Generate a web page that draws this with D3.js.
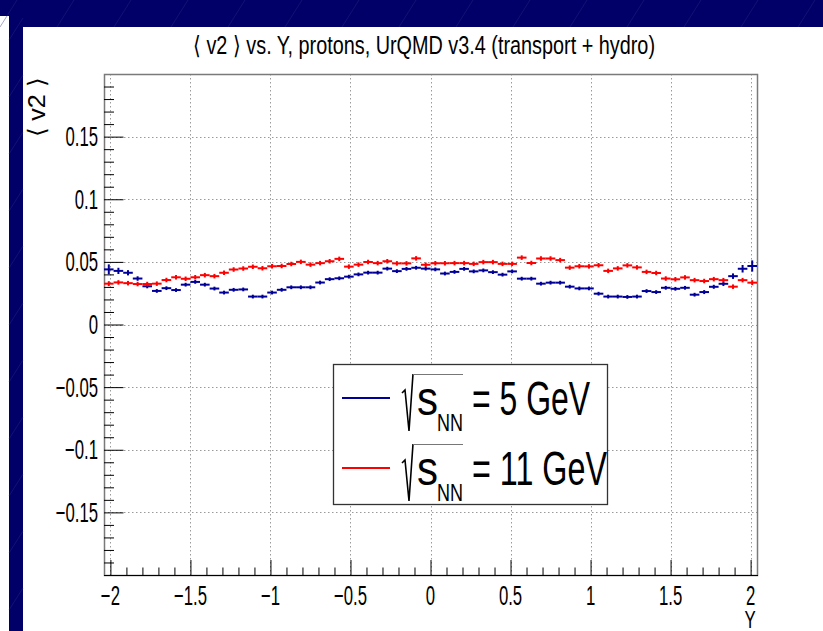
<!DOCTYPE html>
<html>
<head>
<meta charset="utf-8">
<script src="https://cdn.jsdelivr.net/npm/d3@7"></script>
<style>
body { margin: 0; background: #ffffff; }
svg { display: block; }
text { font-family: "Liberation Sans", Arial, sans-serif; fill: #000; }
</style>
</head>
<body>
<div id="chart"></div>
<script>
// histogram binning: 68 bins from -2.04 to 2.04
const nBins = 68, yMin = -2.04, yMax = 2.04;

// <v2> per rapidity bin, sqrt(sNN) = 5 GeV
const v2Blue = [0.0440, 0.0428, 0.0413, 0.0367, 0.0305, 0.0268, 0.0290, 0.0275, 0.0318, 0.0340,
  0.0318, 0.0287, 0.0255, 0.0277, 0.0280, 0.0223, 0.0223, 0.0255, 0.0277, 0.0297,
  0.0297, 0.0297, 0.0335, 0.0362, 0.0369, 0.0382, 0.0400, 0.0414, 0.0414, 0.0446,
  0.0426, 0.0444, 0.0453, 0.0446, 0.0440, 0.0407, 0.0420, 0.0444, 0.0424, 0.0432,
  0.0418, 0.0398, 0.0424, 0.0366, 0.0366, 0.0326, 0.0334, 0.0334, 0.0302, 0.0288,
  0.0288, 0.0246, 0.0223, 0.0223, 0.0220, 0.0223, 0.0267, 0.0259, 0.0293, 0.0285,
  0.0293, 0.0238, 0.0259, 0.0301, 0.0325, 0.0386, 0.0445, 0.0467];
const errBlue = [0.0040, 0.0025, 0.0021, 0.0018, 0.0016, 0.0015, 0.0015, 0.0015, 0.0015, 0.0015,
  0.0015, 0.0015, 0.0015, 0.0015, 0.0015, 0.0015, 0.0015, 0.0015, 0.0015, 0.0015,
  0.0015, 0.0015, 0.0015, 0.0015, 0.0015, 0.0015, 0.0015, 0.0015, 0.0015, 0.0015,
  0.0015, 0.0015, 0.0015, 0.0015, 0.0015, 0.0015, 0.0015, 0.0015, 0.0015, 0.0015,
  0.0015, 0.0015, 0.0015, 0.0015, 0.0015, 0.0015, 0.0015, 0.0015, 0.0015, 0.0015,
  0.0015, 0.0015, 0.0015, 0.0015, 0.0015, 0.0015, 0.0015, 0.0015, 0.0015, 0.0015,
  0.0015, 0.0015, 0.0016, 0.0016, 0.0018, 0.0022, 0.0030, 0.0045];

// <v2> per rapidity bin, sqrt(sNN) = 11 GeV
const v2Red = [0.0326, 0.0336, 0.0330, 0.0323, 0.0323, 0.0326, 0.0355, 0.0377, 0.0365, 0.0377,
  0.0394, 0.0386, 0.0413, 0.0439, 0.0447, 0.0461, 0.0449, 0.0465, 0.0467, 0.0483,
  0.0500, 0.0478, 0.0490, 0.0505, 0.0524, 0.0462, 0.0478, 0.0499, 0.0490, 0.0505,
  0.0488, 0.0488, 0.0528, 0.0477, 0.0489, 0.0489, 0.0490, 0.0490, 0.0484, 0.0498,
  0.0498, 0.0484, 0.0484, 0.0534, 0.0491, 0.0527, 0.0527, 0.0514, 0.0454, 0.0465,
  0.0464, 0.0473, 0.0428, 0.0448, 0.0472, 0.0456, 0.0420, 0.0411, 0.0367, 0.0361,
  0.0376, 0.0354, 0.0347, 0.0362, 0.0354, 0.0302, 0.0354, 0.0334];
const errRed = [0.0020, 0.0018, 0.0018, 0.0018, 0.0018, 0.0018, 0.0018, 0.0018, 0.0018, 0.0018,
  0.0018, 0.0018, 0.0018, 0.0018, 0.0018, 0.0018, 0.0018, 0.0018, 0.0018, 0.0018,
  0.0018, 0.0018, 0.0018, 0.0018, 0.0018, 0.0018, 0.0018, 0.0018, 0.0018, 0.0018,
  0.0018, 0.0018, 0.0018, 0.0018, 0.0018, 0.0018, 0.0018, 0.0018, 0.0018, 0.0018,
  0.0018, 0.0018, 0.0018, 0.0018, 0.0018, 0.0018, 0.0018, 0.0018, 0.0018, 0.0018,
  0.0018, 0.0018, 0.0018, 0.0018, 0.0018, 0.0018, 0.0018, 0.0018, 0.0018, 0.0018,
  0.0018, 0.0018, 0.0018, 0.0018, 0.0018, 0.0018, 0.0018, 0.0020];

const xTicks = [-2, -1.5, -1, -0.5, 0, 0.5, 1, 1.5, 2];
const xTickLabels = ['\u22122', '\u22121.5', '\u22121', '\u22120.5', '0', '0.5', '1', '1.5', '2'];
const yTicks = [-0.15, -0.1, -0.05, 0, 0.05, 0.1, 0.15];
const yTickLabels = ['\u22120.15', '\u22120.1', '\u22120.05', '0', '0.05', '0.1', '0.15'];

const titleText = '\u27e8 v2 \u27e9 vs. Y, protons, UrQMD v3.4 (transport + hydro)';
const legendEnergies = ['= 5 GeV', '= 11 GeV'];
const seriesColors = ['#000099', '#ff0000'];

const width = 823, height = 631;
const frame = { left: 104, right: 757, top: 74, bottom: 575 };

const svg = d3.select('#chart')
  .append('svg')
  .attr('width', width)
  .attr('height', height);

// slide background (navy band and strip)
const navy = '#000068';
svg.append('rect').attr('x', 0).attr('y', 0).attr('width', width).attr('height', 16).attr('fill', navy);
svg.append('rect').attr('x', 9).attr('y', 0).attr('width', width - 9).attr('height', 27).attr('fill', navy);
svg.append('rect').attr('x', 9).attr('y', 0).attr('width', 14).attr('height', height).attr('fill', navy);

const bgLines = svg.append('g').attr('stroke', '#2c2c84').attr('stroke-width', 0.7).attr('opacity', 0.6);
d3.range(0, 900, 57).forEach(x0 => {
  bgLines.append('line').attr('x1', x0).attr('y1', 27).attr('x2', x0 + 17).attr('y2', 0);
});
d3.range(40, 640, 57).forEach(y0 => {
  bgLines.append('line').attr('x1', 9).attr('y1', y0).attr('x2', 23).attr('y2', y0 - 22);
});

const x = d3.scaleLinear().domain([yMin, yMax]).range([frame.left, frame.right]);
const y = d3.scaleLinear().domain([-0.2, 0.2]).range([frame.bottom, frame.top]);

const binW = (yMax - yMin) / nBins;
const centers = d3.range(nBins).map(i => yMin + (i + 0.5) * binW);

// grid
const grid = svg.append('g')
  .attr('stroke', '#9a9a9a')
  .attr('stroke-width', 1)
  .attr('stroke-dasharray', '1.5,2.5');

grid.selectAll('.gx')
  .data(xTicks)
  .enter()
  .append('line')
  .attr('x1', d => Math.round(x(d)) + 0.5)
  .attr('x2', d => Math.round(x(d)) + 0.5)
  .attr('y1', frame.top)
  .attr('y2', frame.bottom);

grid.selectAll('.gy')
  .data(yTicks)
  .enter()
  .append('line')
  .attr('y1', d => Math.round(y(d)) + 0.5)
  .attr('y2', d => Math.round(y(d)) + 0.5)
  .attr('x1', frame.left)
  .attr('x2', frame.right);

// frame
svg.append('rect')
  .attr('x', frame.left + 0.5)
  .attr('y', frame.top + 0.5)
  .attr('width', frame.right - frame.left)
  .attr('height', frame.bottom - frame.top)
  .attr('fill', 'none')
  .attr('stroke', '#7a7a7a')
  .attr('stroke-width', 1.5);

// axes
const xAxis = d3.axisTop(x)
  .tickValues(d3.range(-20, 21).map(k => k / 10))
  .tickSize(0)
  .tickFormat('');
const gx = svg.append('g').attr('transform', `translate(0,${frame.bottom})`);
gx.call(xAxis);
gx.select('.domain').remove();
gx.selectAll('.tick line')
  .attr('y2', (d) => xTicks.some(t => Math.abs(t - d) < 1e-9) ? -15 : -7.5)
  .attr('stroke', '#000')
  .attr('stroke-width', 1);
svg.append('line')
  .attr('x1', frame.left).attr('x2', frame.right + 1)
  .attr('y1', frame.bottom + 0.5).attr('y2', frame.bottom + 0.5)
  .attr('stroke', '#000').attr('stroke-width', 1.2);

const yAxis = d3.axisRight(y)
  .tickValues(d3.range(-19, 20).map(k => k / 100))
  .tickSize(0)
  .tickFormat('');
const gy = svg.append('g').attr('transform', `translate(${frame.left},0)`);
gy.call(yAxis);
gy.select('.domain').remove();
gy.selectAll('.tick line')
  .attr('x2', (d) => yTicks.some(t => Math.abs(t - d) < 1e-9) ? 19.5 : 10)
  .attr('stroke', '#000')
  .attr('stroke-width', 1);

// tick labels (ROOT text here is squeezed horizontally)
const squeeze = 0.62;
const label = (px, py, str, size, anchor, sx) => {
  svg.append('text')
    .attr('transform', `translate(${px},${py}) scale(${sx},1)`)
    .attr('text-anchor', anchor)
    .attr('font-size', size)
    .text(str);
};

xTicks.forEach((t, i) => label(x(t), 605, xTickLabels[i], 27, 'middle', squeeze));
yTicks.forEach((t, i) => label(98, y(t) + 9.5, yTickLabels[i], 27, 'end', squeeze));

label(750, 628, 'Y', 24, 'middle', 0.7);

svg.append('text')
  .attr('transform', 'translate(45,78) rotate(-90)')
  .attr('text-anchor', 'end')
  .attr('font-size', 24)
  .attr('textLength', 59)
  .attr('lengthAdjust', 'spacingAndGlyphs')
  .text('\u27e8 v2 \u27e9');

svg.append('text')
  .attr('x', 193)
  .attr('y', 54)
  .attr('font-size', 25)
  .attr('textLength', 462)
  .attr('lengthAdjust', 'spacingAndGlyphs')
  .text(titleText);

// data: bin-width horizontal bars with vertical error bars
const series = [
  { vals: v2Blue, errs: errBlue, color: seriesColors[0] },
  { vals: v2Red, errs: errRed, color: seriesColors[1] }
];

series.forEach(s => {
  const g = svg.append('g')
    .attr('stroke', s.color)
    .attr('stroke-width', 2);

  g.selectAll('.h')
    .data(centers)
    .enter()
    .append('line')
    .attr('x1', (d) => x(d - binW / 2))
    .attr('x2', (d) => x(d + binW / 2))
    .attr('y1', (d, i) => y(s.vals[i]))
    .attr('y2', (d, i) => y(s.vals[i]));

  g.selectAll('.v')
    .data(centers)
    .enter()
    .append('line')
    .attr('x1', d => x(d))
    .attr('x2', d => x(d))
    .attr('y1', (d, i) => y(s.vals[i] - s.errs[i]))
    .attr('y2', (d, i) => y(s.vals[i] + s.errs[i]));
});

// legend
const leg = { x: 333, y: 364, w: 274, h: 140 };
svg.append('rect')
  .attr('x', leg.x + 0.5).attr('y', leg.y + 0.5)
  .attr('width', leg.w).attr('height', leg.h)
  .attr('fill', '#fff')
  .attr('stroke', '#333')
  .attr('stroke-width', 1.3);

legendEnergies.forEach((str, i) => {
  const dy = i * 70;
  svg.append('line')
    .attr('x1', 342).attr('x2', 390)
    .attr('y1', 398 + dy).attr('y2', 398 + dy)
    .attr('stroke', seriesColors[i])
    .attr('stroke-width', 2);

  svg.append('path')
    .attr('d', 'M402,393 L405,390 L409,431 L413,374')
    .attr('transform', `translate(0,${dy})`)
    .attr('fill', 'none')
    .attr('stroke', '#000')
    .attr('stroke-width', 1.6);
  svg.append('line')
    .attr('x1', 413).attr('x2', 463)
    .attr('y1', 374.5 + dy).attr('y2', 374.5 + dy)
    .attr('stroke', '#777')
    .attr('stroke-width', 1.2);

  svg.append('text')
    .attr('x', 417).attr('y', 415 + dy)
    .attr('font-size', 48)
    .attr('textLength', 21)
    .attr('lengthAdjust', 'spacingAndGlyphs')
    .text('s');
  svg.append('text')
    .attr('x', 437).attr('y', 431 + dy)
    .attr('font-size', 23)
    .attr('textLength', 26)
    .attr('lengthAdjust', 'spacingAndGlyphs')
    .text('NN');
  svg.append('text')
    .attr('x', 472).attr('y', 415 + dy)
    .attr('font-size', 49)
    .attr('textLength', i === 0 ? 118 : 135)
    .attr('lengthAdjust', 'spacingAndGlyphs')
    .text(str);
});
</script>
</body>
</html>
